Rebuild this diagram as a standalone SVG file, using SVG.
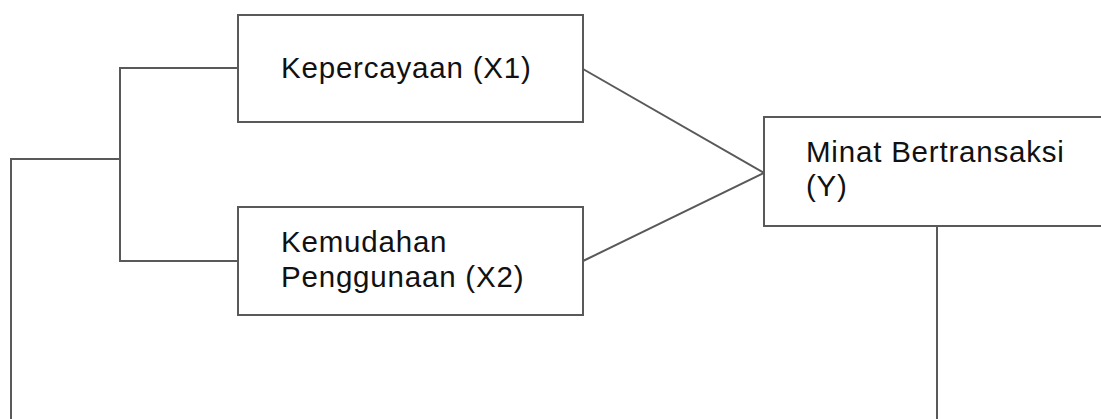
<svg xmlns="http://www.w3.org/2000/svg" width="1101" height="419" viewBox="0 0 1101 419">
<style>
.box{fill:#fff;stroke:#595959;stroke-width:2}
.con{fill:none;stroke:#595959;stroke-width:2}
.t{font-family:"Liberation Sans",Arial,sans-serif;font-size:29.5px;letter-spacing:0.8px;fill:#111}
</style>
<rect width="1101" height="419" fill="#fff"/>
<g id="connectors">
<polyline class="con" points="238,68 120,68 120,261 238,261"/>
<polyline class="con" points="120,159 11,159 11,425"/>
<line class="con" x1="583" y1="69" x2="764" y2="173"/>
<line class="con" x1="583" y1="261" x2="764" y2="173"/>
<line class="con" x1="937" y1="226" x2="937" y2="425"/>
</g>
<g id="x1">
<rect class="box" x="238" y="15" width="345" height="107"/>
<text class="t" x="281" y="78">Kepercayaan (X1)</text>
</g>
<g id="x2">
<rect class="box" x="238" y="207" width="345" height="108"/>
<text class="t" x="281" y="252">Kemudahan</text>
<text class="t" x="281" y="287">Penggunaan (X2)</text>
</g>
<g id="y">
<rect class="box" x="764" y="117" width="360" height="109"/>
<text class="t" x="806" y="162">Minat Bertransaksi</text>
<text class="t" x="806" y="196">(Y)</text>
</g>
</svg>
